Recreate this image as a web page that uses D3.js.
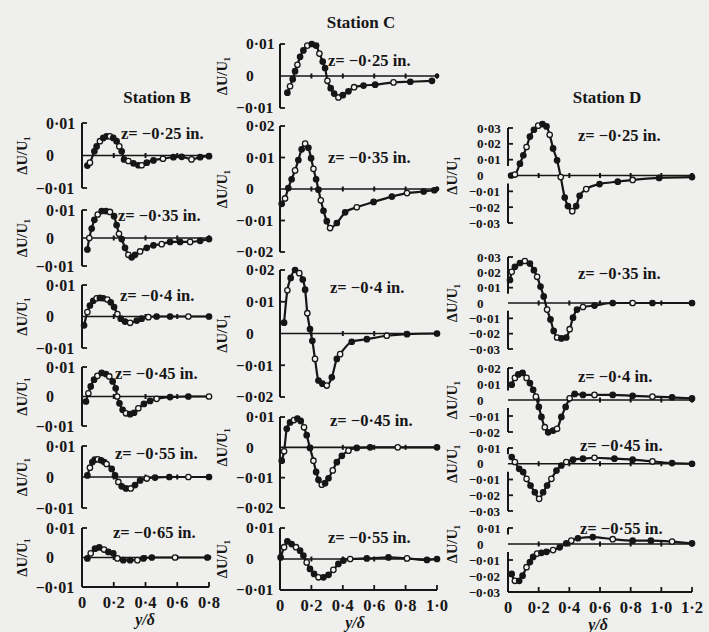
<!DOCTYPE html>
<html><head><meta charset="utf-8">
<script src="https://cdn.jsdelivr.net/npm/d3@7"></script>
<style>body{margin:0;background:#efefed}svg{display:block}</style>
</head><body><svg id="c" width="709" height="632"></svg>
<script>
// ---------- DATA (y/δ and ΔU/U1) ----------
const bX025 = [0.034,0.05,0.078,0.092,0.113,0.134,0.155,0.176,0.197,0.218,0.235,0.25,0.265,0.292,0.324,0.355,0.376,0.408,0.45,0.51,0.576,0.628,0.69,0.744,0.8];
const bU025 = [-0.0031,-0.0022,0.0013,0.0028,0.0044,0.0054,0.0059,0.0059,0.0054,0.0044,0.0028,0.0013,-0.0012,-0.0017,-0.0024,-0.003,-0.003,-0.0022,-0.0015,-0.001,-0.0005,-0.0004,-0.0012,-0.0005,-0.0002];
const bX035 = [0.034,0.046,0.061,0.078,0.099,0.124,0.151,0.176,0.202,0.218,0.233,0.25,0.271,0.292,0.313,0.334,0.366,0.408,0.45,0.502,0.555,0.618,0.681,0.744,0.8];
const bU035 = [-0.0041,0,0.0034,0.0065,0.0084,0.0096,0.0096,0.0093,0.0078,0.0046,0.0015,-0.0004,-0.0035,-0.006,-0.0069,-0.006,-0.0048,-0.0035,-0.0026,-0.0022,-0.0014,-0.0014,-0.0014,-0.001,-0.0004];
const bX040 = [0.013,0.034,0.05,0.071,0.092,0.113,0.134,0.16,0.181,0.202,0.223,0.244,0.271,0.303,0.345,0.376,0.418,0.47,0.555,0.67,0.8];
const bU040 = [-0.0028,0.0014,0.0035,0.005,0.0058,0.0059,0.0058,0.0054,0.0045,0.003,0.0008,-0.0007,-0.0016,-0.002,-0.0013,-0.0007,-0.0002,0,0,0,0];
const bX045 = [0.025,0.04,0.055,0.076,0.097,0.124,0.151,0.172,0.193,0.212,0.222,0.236,0.256,0.277,0.303,0.328,0.355,0.39,0.429,0.47,0.555,0.67,0.8];
const bU045 = [-0.0017,0.0011,0.0034,0.0057,0.007,0.008,0.0076,0.0068,0.0051,0.0028,0,-0.0023,-0.0045,-0.0057,-0.006,-0.0055,-0.004,-0.0025,-0.0015,-0.0008,-0.0002,0,0];
const bX055 = [0.034,0.05,0.065,0.08,0.1,0.12,0.14,0.155,0.187,0.208,0.229,0.25,0.277,0.307,0.334,0.366,0.408,0.46,0.55,0.67,0.8];
const bU055 = [0.0005,0.003,0.0048,0.0056,0.0057,0.0054,0.0048,0.0042,0.0026,0.0005,-0.0016,-0.003,-0.0037,-0.0037,-0.0026,-0.0011,-0.0005,-0.0002,0,0,0];
const bX065 = [0.034,0.055,0.082,0.109,0.139,0.166,0.197,0.223,0.26,0.303,0.349,0.387,0.44,0.586,0.79];
const bU065 = [-0.0003,0.0014,0.003,0.0034,0.0027,0.0019,0.0014,-0.0003,-0.0009,-0.0009,-0.0009,-0.0003,0,0,0];

const cX025 = [0.047,0.064,0.081,0.096,0.111,0.128,0.149,0.174,0.202,0.23,0.251,0.272,0.287,0.302,0.323,0.345,0.372,0.4,0.436,0.472,0.532,0.606,0.723,0.83,0.968];
const cU025 = [-0.0052,-0.0032,-0.001,0.0015,0.0035,0.006,0.008,0.0095,0.01,0.0095,0.007,0.0045,0.0025,-0.0015,-0.0038,-0.0055,-0.0067,-0.006,-0.0048,-0.0035,-0.003,-0.0027,-0.002,-0.0018,-0.0015];
const cX035 = [0.011,0.032,0.053,0.074,0.096,0.117,0.138,0.16,0.181,0.198,0.213,0.23,0.245,0.26,0.277,0.298,0.319,0.362,0.415,0.489,0.596,0.713,0.809,0.915,0.983];
const cU035 = [-0.0047,-0.003,0.0003,0.0031,0.0059,0.0092,0.0126,0.0144,0.0131,0.0098,0.0064,0.0031,-0.0002,-0.0036,-0.0069,-0.0102,-0.0124,-0.0108,-0.0074,-0.0058,-0.0041,-0.0024,-0.0013,-0.0008,-0.0004];
const cX040 = [0.026,0.047,0.068,0.096,0.123,0.145,0.16,0.174,0.191,0.206,0.223,0.245,0.27,0.298,0.33,0.362,0.383,0.457,0.553,0.68,0.809,1.0];
const cU040 = [0.0034,0.0136,0.0175,0.02,0.019,0.017,0.0138,0.0064,0.0014,-0.0023,-0.008,-0.0148,-0.0158,-0.0164,-0.0138,-0.008,-0.0065,-0.0026,-0.0018,-0.0007,-0.0002,0];
const cX045 = [0.011,0.026,0.043,0.064,0.089,0.111,0.132,0.153,0.17,0.191,0.213,0.23,0.245,0.266,0.287,0.309,0.336,0.362,0.394,0.436,0.489,0.574,0.75,1.0];
const cU045 = [-0.0044,-0.0013,0.0061,0.0082,0.009,0.0095,0.0087,0.0066,0.004,-0.0002,-0.0044,-0.0081,-0.0107,-0.0123,-0.0118,-0.0102,-0.0076,-0.0049,-0.0028,-0.0011,-0.0002,0,0,0];
const cX055 = [0.004,0.026,0.047,0.074,0.102,0.128,0.149,0.17,0.191,0.217,0.245,0.277,0.309,0.34,0.372,0.404,0.447,0.553,0.691,0.809,0.936,1.0];
const cU055 = [0.0005,0.0038,0.0057,0.0048,0.0038,0.0027,0.0011,-0.0011,-0.0032,-0.0048,-0.0059,-0.0059,-0.0051,-0.0035,-0.0016,-0.0005,0,0.0002,0.0005,0.0002,-0.0003,0];

const dX025 = [0.02,0.045,0.078,0.1,0.121,0.143,0.169,0.197,0.225,0.251,0.272,0.294,0.32,0.344,0.37,0.391,0.419,0.445,0.467,0.51,0.597,0.716,0.813,0.986,1.2];
const dU025 = [0,0.0006,0.0075,0.0128,0.018,0.0246,0.0289,0.0315,0.0325,0.031,0.0257,0.0171,0.0096,-0.001,-0.0139,-0.0193,-0.0225,-0.0193,-0.0128,-0.0086,-0.0054,-0.0039,-0.0028,-0.0015,-0.001];
const dX035 = [0.013,0.024,0.045,0.078,0.11,0.143,0.169,0.19,0.212,0.233,0.255,0.277,0.298,0.32,0.348,0.38,0.402,0.424,0.45,0.489,0.564,0.683,0.813,0.942,1.2];
const dU035 = [0.015,0.0203,0.0236,0.0261,0.0274,0.0257,0.0214,0.0171,0.0107,0.0043,-0.0043,-0.0107,-0.0182,-0.0225,-0.0231,-0.0225,-0.0171,-0.0096,-0.0043,-0.0026,-0.0017,0,0,0,0];
const dX040 = [0.024,0.045,0.067,0.095,0.121,0.143,0.164,0.182,0.201,0.218,0.24,0.262,0.294,0.32,0.348,0.376,0.402,0.435,0.489,0.564,0.683,0.813,0.942,1.07,1.2];
const dU040 = [0.0096,0.0138,0.016,0.017,0.0138,0.0106,0.0064,0.0021,-0.0043,-0.0106,-0.017,-0.0202,-0.0191,-0.018,-0.0106,-0.0043,0.0011,0.0038,0.0032,0.0032,0.0032,0.0026,0.0021,0.0017,0.001];
const dX045 = [0.024,0.045,0.073,0.099,0.121,0.147,0.175,0.203,0.229,0.255,0.283,0.316,0.348,0.38,0.424,0.489,0.564,0.694,0.813,0.942,1.07,1.2];
const dU045 = [0.0043,0.0011,-0.0032,-0.0053,-0.0096,-0.0138,-0.0181,-0.0223,-0.0181,-0.0138,-0.0096,-0.0043,-0.0011,0.0011,0.0026,0.0032,0.0038,0.0032,0.0026,0.0015,0.0004,0];
const dX055 = [0.024,0.045,0.073,0.095,0.121,0.143,0.164,0.19,0.218,0.251,0.294,0.337,0.38,0.413,0.456,0.553,0.683,0.813,0.932,1.07,1.2];
const dU055 = [-0.0187,-0.023,-0.023,-0.0198,-0.0145,-0.0113,-0.0081,-0.006,-0.0055,-0.0049,-0.0038,-0.0021,0.0004,0.0021,0.0036,0.0043,0.003,0.0021,0.0021,0.0015,0.0004];

const stations = ["Station B", "Station C", "Station D"];
const zB = ["−0·25","−0·35","−0·4","−0·45","−0·55","−0·65"];
const zC = ["−0·25","−0·35","−0·4","−0·45","−0·55"];
const zD = ["−0·25","−0·35","−0·4","−0·45","−0·55"];
const xTicksB = [0,0.2,0.4,0.6,0.8];
const xTicksC = [0,0.2,0.4,0.6,0.8,1.0];
const xTicksD = [0,0.2,0.4,0.6,0.8,1.0,1.2];
const xTickLabB = ["0","0·2","0·4","0·6","0·8"];
const xTickLabC = ["0","0·2","0·4","0·6","0·8","1·0"];
const xTickLabD = ["0","0·2","0·4","0·6","0·8","1·0","1·2"];

// ---------- LAYOUT ----------
const FONT = '"Liberation Serif","DejaVu Serif",serif';
const INK = "#161616";
const cols = [
  {title:stations[0], tx:157, ty:103, x0:82, x1:209, xmax:0.8, digitX:46, ylabX:22, tfs:16, ticks:xTicksB, tlab:xTickLabB, axY:587, axLabX:145, gap:false,
   panels:[
    {x:bX025,u:bU025,z:zB[0],dom:[-0.01,0.01],top:123,bot:188,lx:121,ly:133},
    {x:bX035,u:bU035,z:zB[1],dom:[-0.01,0.01],top:210,bot:266,lx:118,ly:215},
    {x:bX040,u:bU040,z:zB[2],dom:[-0.01,0.01],top:285,bot:348,lx:120,ly:295},
    {x:bX045,u:bU045,z:zB[3],dom:[-0.01,0.01],top:367,bot:426,lx:115,ly:373},
    {x:bX055,u:bU055,z:zB[4],dom:[-0.01,0.01],top:446,bot:508,lx:115,ly:453},
    {x:bX065,u:bU065,z:zB[5],dom:[-0.01,0.01],top:528,bot:587,lx:113,ly:532}]},
  {title:stations[1], tx:361, ty:28, x0:280, x1:437, xmax:1.0, digitX:246, ylabX:222, tfs:15.5, ticks:xTicksC, tlab:xTickLabC, axY:590, axLabX:355, gap:false,
   panels:[
    {x:cX025,u:cU025,z:zC[0],dom:[-0.01,0.01],top:44,bot:108,lx:328,ly:60},
    {x:cX035,u:cU035,z:zC[1],dom:[-0.02,0.02],top:126,bot:252,lx:328,ly:157},
    {x:cX040,u:cU040,z:zC[2],dom:[-0.02,0.02],top:270,bot:397,lx:330,ly:287},
    {x:cX045,u:cU045,z:zC[3],dom:[-0.02,0.01],top:417,bot:508,lx:330,ly:420},
    {x:cX055,u:cU055,z:zC[4],dom:[-0.01,0.01],top:528,bot:590,lx:328,ly:537}]},
  {title:stations[2], tx:607, ty:103, x0:508, x1:692, xmax:1.2, digitX:477, ylabX:452, tfs:13, ticks:xTicksD, tlab:xTickLabD, axY:592, axLabX:598, gap:true,
   panels:[
    {x:dX025,u:dU025,z:zD[0],dom:[-0.03,0.03],top:128,bot:223,lx:578,ly:135},
    {x:dX035,u:dU035,z:zD[1],dom:[-0.03,0.03],top:257,bot:349,lx:578,ly:273},
    {x:dX040,u:dU040,z:zD[2],dom:[-0.02,0.02],top:368,bot:432,lx:578,ly:376},
    {x:dX045,u:dU045,z:zD[3],dom:[-0.03,0.01],top:448,bot:511,lx:580,ly:445},
    {x:dX055,u:dU055,z:zD[4],dom:[-0.03,0.01],top:528,bot:592,lx:580,ly:528}]}
];

const svg = d3.select("#c");
svg.append("rect").attr("width",709).attr("height",632).attr("fill","#efefed");
const g = svg.append("g").attr("font-family",FONT).attr("font-weight","bold").attr("fill",INK);

function fmt(v){
  if (Math.abs(v) < 1e-9) return "0";
  return "0·0" + Math.round(Math.abs(v)*100);
}
const LABFS = 16.5, TITLEFS = 17, XTFS = 16.5;

cols.forEach((col, ci) => {
  const xs = d3.scaleLinear().domain([0, col.xmax]).range([col.x0, col.x1]);
  g.append("text").attr("x",col.tx).attr("y",col.ty).attr("text-anchor","middle")
    .attr("font-size",TITLEFS).text(col.title);

  col.panels.forEach((p, pi) => {
    const last = pi === col.panels.length - 1;
    const ys = d3.scaleLinear().domain(p.dom).range([p.bot, p.top]);
    const yTicks = d3.range(Math.round(p.dom[1]*100), Math.round(p.dom[0]*100)-1, -1).map(k => k/100);
    const pg = g.append("g");
    const y0 = ys(0);

    // left bracket axis
    const segs = col.gap ? [[p.dom[1], 0.006],[-0.005, p.dom[0]]] : [[p.dom[1], p.dom[0]]];
    segs.forEach(s => {
      pg.append("line").attr("x1",col.x0).attr("x2",col.x0).attr("y1",ys(s[0])).attr("y2",ys(s[1]))
        .attr("stroke",INK).attr("stroke-width",2);
    });
    yTicks.forEach(t => {
      if (Math.abs(t) < 1e-9) return;
      if (last && Math.abs(t - p.dom[0]) < 1e-9) return;
      pg.append("line").attr("x1",col.x0).attr("x2",col.x0+5).attr("y1",ys(t)).attr("y2",ys(t))
        .attr("stroke",INK).attr("stroke-width",1.8);
    });
    // tick labels
    yTicks.forEach(t => {
      const neg = t < -1e-9;
      pg.append("text").attr("x", neg ? col.digitX - col.tfs*0.64 : col.digitX).attr("y", ys(t)).attr("dy","0.35em")
        .attr("font-size",col.tfs).text((neg ? "−" : "") + fmt(t));
    });
    // y label
    pg.append("text").attr("transform",`translate(${col.ylabX},${y0}) rotate(-90)`)
      .attr("text-anchor","middle").attr("dy","0.35em").attr("font-size",14.5).text("ΔU/U₁");

    // zero line with ticks
    pg.append("line").attr("x1",col.x0).attr("x2",col.x1).attr("y1",y0).attr("y2",y0)
      .attr("stroke",INK).attr("stroke-width",1.7);
    col.ticks.slice(1).forEach(t => {
      pg.append("line").attr("x1",xs(t)).attr("x2",xs(t)).attr("y1",y0-2.5).attr("y2",y0+2.5)
        .attr("stroke",INK).attr("stroke-width",2);
    });
    pg.append("circle").attr("cx",col.x1).attr("cy",y0).attr("r",2.4).attr("fill",INK);

    // data curve
    const pts = p.x.map((xv,i)=>[xv,p.u[i]]);
    pg.append("path").datum(pts)
      .attr("d", d3.line().x(d=>xs(d[0])).y(d=>ys(d[1])).curve(d3.curveMonotoneX))
      .attr("fill","none").attr("stroke",INK).attr("stroke-width",2.2);
    pg.selectAll("circle.pt").data(pts).enter().append("circle").attr("class","pt")
      .attr("cx",d=>xs(d[0])).attr("cy",d=>ys(d[1])).attr("r",2.7)
      .attr("fill",(d,i)=> i%3===1 ? "#f2f2f0" : INK).attr("stroke",INK).attr("stroke-width",1.3);

    // panel label
    pg.append("text").attr("x",p.lx).attr("y",p.ly).attr("dy","0.35em").attr("font-size",LABFS)
      .text("z= " + p.z + " in.");

    // bottom x axis on last panel
    if (last) {
      const ay = col.axY;
      pg.append("line").attr("x1",col.x0).attr("x2",col.x1).attr("y1",ay).attr("y2",ay)
        .attr("stroke",INK).attr("stroke-width",2);
      col.ticks.forEach((t,i) => {
        if (i>0) pg.append("line").attr("x1",xs(t)).attr("x2",xs(t)).attr("y1",ay).attr("y2",ay-5)
          .attr("stroke",INK).attr("stroke-width",1.8);
        pg.append("text").attr("x",xs(t)).attr("y",ay+15).attr("dy","0.35em").attr("text-anchor","middle")
          .attr("font-size",XTFS).text(col.tlab[i]);
      });
      pg.append("text").attr("x",col.axLabX).attr("y",ay+32).attr("dy","0.35em").attr("text-anchor","middle")
        .attr("font-size",16).attr("font-style","italic").text("y/δ");
    }
  });
});
</script></body></html>
